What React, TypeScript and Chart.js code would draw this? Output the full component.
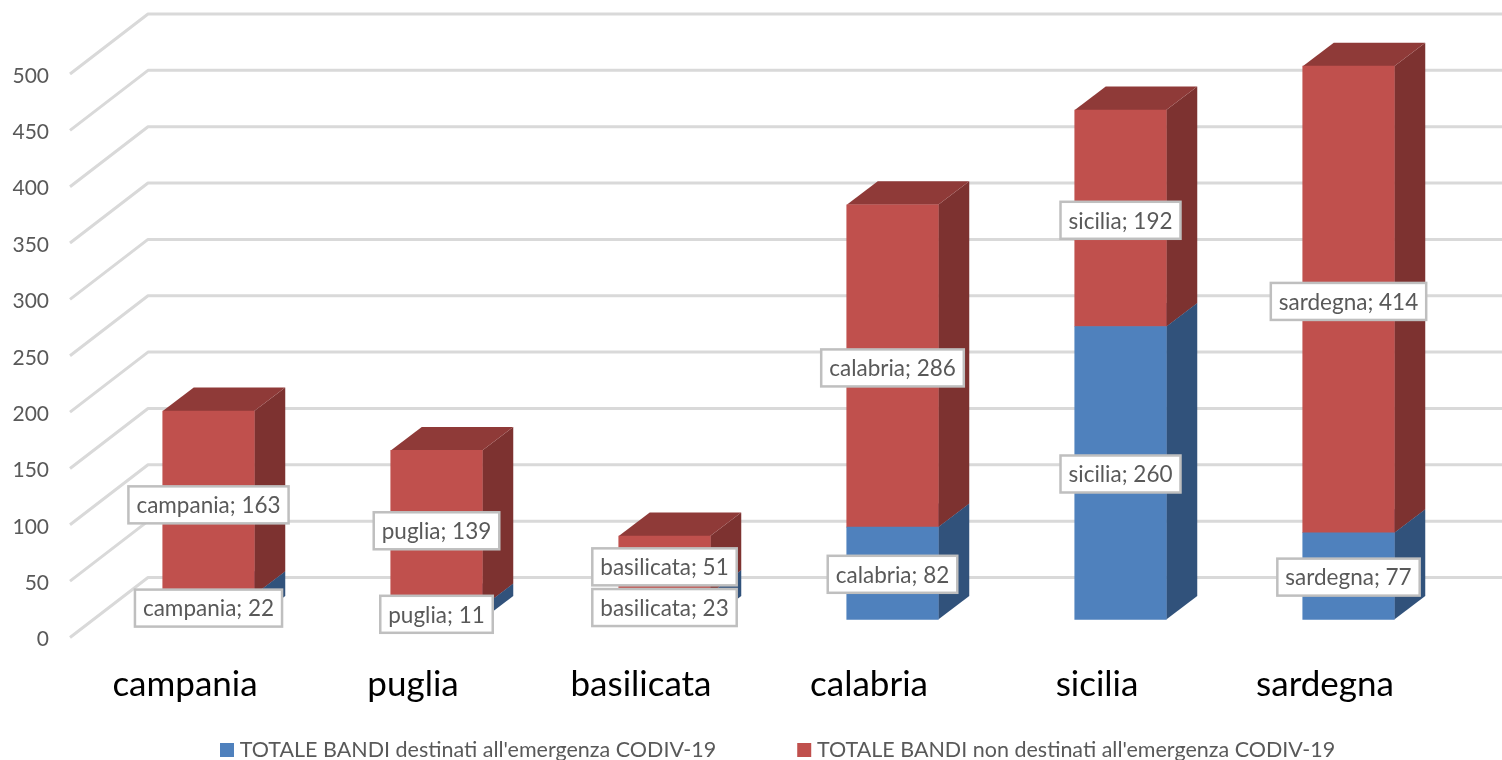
import React, { useEffect, useRef } from "react";
import { Chart, registerables } from "chart.js";

Chart.register(...registerables);

const categories = ["campania", "puglia", "basilicata", "calabria", "sicilia", "sardegna"];
const destinati = [22, 11, 23, 82, 260, 77];
const nonDestinati = [163, 139, 51, 286, 192, 414];
const seriesNames = [
  "TOTALE BANDI destinati all'emergenza CODIV-19",
  "TOTALE BANDI non destinati all'emergenza CODIV-19",
];
const FRONT = ["#4f81bd", "#c0504d"];
const SIDE = ["#31527b", "#7d3230"];
const TOP = ["#3d6594", "#8f3a38"];
const FONT = "Lato, Carlito, 'Open Sans', sans-serif";

const WALL_DX = 78, WALL_DY = -60;
const BAR_SHIFT_X = 23.5, BAR_SHIFT_Y = -18;
const DEPTH_DX = 31, DEPTH_DY = -23.5;
const LABEL_NUDGE = [1, 2];

const threeD = {
  id: "threeD",
  beforeLayout(chart: any) {
    if (chart.legend) chart.legend.afterFit = function () { this.height = 1; };
  },
  afterLayout(chart: any) {
    const l = chart.legend, P = l.options.labels.padding, F = l.options.labels.font.size;
    l.left = 225 - P; l.right = 3000;
    l.top = 750 - F / 2 - P; l.bottom = 800;
  },
  beforeDatasetsDraw(chart: any) {
    const { ctx, chartArea, scales } = chart;
    const y = scales.y;
    ctx.save();
    ctx.strokeStyle = "#d9d9d9";
    ctx.lineWidth = 3;
    ctx.lineJoin = "round";
    y.ticks.forEach((t: any) => {
      const py = y.getPixelForValue(t.value);
      ctx.beginPath();
      ctx.moveTo(chartArea.left - 1, py);
      ctx.lineTo(chartArea.left - 1 + WALL_DX, py + WALL_DY);
      ctx.lineTo(chart.width, py + WALL_DY);
      ctx.stroke();
    });
    ctx.restore();
    ctx.save();
    ctx.translate(BAR_SHIFT_X, BAR_SHIFT_Y);
    chart.data.datasets.forEach((_: any, d: number) => {
      const meta = chart.getDatasetMeta(d);
      meta.data.forEach((bar: any) => {
        const r = bar.x + bar.width / 2, l = bar.x - bar.width / 2;
        ctx.fillStyle = SIDE[d];
        ctx.beginPath();
        ctx.moveTo(r, bar.base);
        ctx.lineTo(r + DEPTH_DX, bar.base + DEPTH_DY);
        ctx.lineTo(r + DEPTH_DX, bar.y + DEPTH_DY);
        ctx.lineTo(r, bar.y);
        ctx.closePath();
        ctx.fill();
        ctx.fillStyle = TOP[d];
        ctx.beginPath();
        ctx.moveTo(l, bar.y);
        ctx.lineTo(l + DEPTH_DX, bar.y + DEPTH_DY);
        ctx.lineTo(r + DEPTH_DX, bar.y + DEPTH_DY);
        ctx.lineTo(r, bar.y);
        ctx.closePath();
        ctx.fill();
      });
    });
  },
  afterDatasetsDraw(chart: any) {
    const { ctx } = chart;
    ctx.restore();
    ctx.save();
    ctx.font = `22.5px ${FONT}`;
    ctx.textAlign = "center";
    ctx.textBaseline = "middle";
    chart.data.datasets.forEach((ds: any, d: number) => {
      const meta = chart.getDatasetMeta(d);
      meta.data.forEach((bar: any, i: number) => {
        const text = `${categories[i]}; ${ds.data[i]}`;
        const w = ctx.measureText(text).width + 16;
        const h = 37;
        const cx = bar.x + BAR_SHIFT_X;
        const cy = (bar.y + bar.base) / 2 + BAR_SHIFT_Y + LABEL_NUDGE[d];
        ctx.fillStyle = "#ffffff";
        ctx.strokeStyle = "#bfbfbf";
        ctx.lineWidth = 2.5;
        ctx.fillRect(cx - w / 2, cy - h / 2, w, h);
        ctx.strokeRect(cx - w / 2, cy - h / 2, w, h);
        ctx.fillStyle = "#595959";
        ctx.fillText(text, cx, cy + 1);
      });
    });
    ctx.restore();
  },
};

export default function App() {
  const ref = useRef<HTMLCanvasElement>(null);
  useEffect(() => {
    const chart = new Chart(ref.current as HTMLCanvasElement, {
      type: "bar",
      data: {
        labels: categories,
        datasets: [
          { label: seriesNames[0], data: destinati, backgroundColor: FRONT[0], clip: false } as any,
          { label: seriesNames[1], data: nonDestinati, backgroundColor: FRONT[1], clip: false } as any,
        ],
      },
      options: {
        responsive: false,
        animation: false,
        layout: { padding: { top: 74, right: 63, left: 0, bottom: 0 } },
        datasets: { bar: { barThickness: 91.5 } },
        plugins: {
          tooltip: { enabled: false },
          legend: {
            position: "bottom",
            align: "start",
            labels: {
              boxWidth: 4,
              boxHeight: 14,
              usePointStyle: true,
              pointStyle: "rect",
              padding: 86,
              color: "#595959",
              font: { family: FONT, size: 21.5 },
            },
          },
        },
        scales: {
          x: {
            stacked: true,
            grid: { display: false },
            border: { display: false },
            ticks: { color: "#000000", padding: 18, maxRotation: 0, font: { family: FONT, size: 35 } },
            afterFit(s: any) { s.height = 123; },
          },
          y: {
            stacked: true,
            min: 0,
            max: 500,
            grid: { display: false },
            border: { display: false },
            ticks: { stepSize: 50, color: "#595959", padding: 14, labelOffset: 2, font: { family: FONT, size: 21 } },
            afterFit(s: any) { s.width = 71; },
          },
        },
      },
      plugins: [
        threeD,
        {
          id: "fixArea",
          beforeLayout(chart: any) {
            chart.options.layout.padding.bottom = -(chart.options.plugins.legend.labels.padding + 32);
          },
        },
      ],
    } as any);
    return () => chart.destroy();
  }, []);
  return (
    <canvas
      ref={ref}
      width={1502}
      height={760}
      style={{ position: "absolute", left: 0, top: 0, display: "block", background: "#ffffff" }}
    />
  );
}
